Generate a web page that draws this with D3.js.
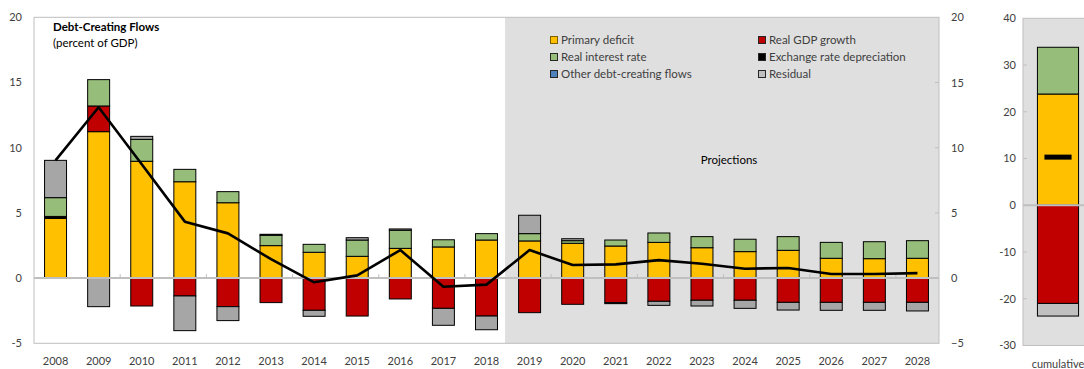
<!DOCTYPE html>
<html>
<head>
<meta charset="utf-8">
<script src="https://cdn.jsdelivr.net/npm/d3@7/dist/d3.min.js"></script>
<style>
  html, body { margin: 0; padding: 0; background: #ffffff; }
  svg { display: block; font-family: Lato, "Liberation Sans", sans-serif; }
</style>
</head>
<body>
<svg id="chart" width="1084" height="369"></svg>
<script>
// Debt-creating flows, percent of GDP
const years = ["2008","2009","2010","2011","2012","2013","2014","2015","2016","2017","2018",
               "2019","2020","2021","2022","2023","2024","2025","2026","2027","2028"];
const firstProjection = "2019";

const primaryDeficit = [4.58, 11.23, 8.96, 7.39, 5.78, 2.49, 1.98, 1.67, 2.28, 2.39, 2.92,
                        2.85, 2.67, 2.46, 2.74, 2.33, 2.03, 2.13, 1.52, 1.49, 1.52];
const realGdpGrowth  = [0.00, 1.97, -2.14, -1.37, -2.19, -1.88, -2.47, -2.91, -1.60, -2.32, -2.91,
                        -2.65, -2.01, -1.88, -1.78, -1.70, -1.70, -1.86, -1.86, -1.86, -1.86];
const exchangeRate   = [0.15, 0, 0, 0, 0, 0, 0, 0, 0, 0, 0,
                        0, 0, 0, 0, 0, 0, 0, 0, 0, 0];
const realInterest   = [1.44, 2.02, 1.68, 0.95, 0.85, 0.79, 0.61, 1.25, 1.39, 0.55, 0.49,
                        0.56, 0.20, 0.46, 0.72, 0.85, 0.95, 1.05, 1.22, 1.30, 1.35];
const otherFlows     = [0, 0, 0, 0, 0, 0, 0, 0, 0, 0, 0,
                        0, 0, 0, 0, 0, 0, 0, 0, 0, 0];
const residual       = [2.86, -2.19, 0.23, -2.66, -1.07, 0.08, -0.46, 0.18, 0.10, -1.30, -1.05,
                        1.41, 0.15, -0.08, -0.31, -0.44, -0.62, -0.59, -0.61, -0.61, -0.66];
const debtChange     = [9.03, 13.10, 8.73, 4.33, 3.43, 1.45, -0.32, 0.21, 2.15, -0.66, -0.50,
                        2.15, 1.00, 1.05, 1.38, 1.10, 0.72, 0.78, 0.31, 0.31, 0.38];

// Cumulative over the projection period
const cumulativeLabel = "cumulative";
const cumPrimary  = 23.8;
const cumGrowth   = -21.0;
const cumExchange = 0;
const cumInterest = 10.0;
const cumOther    = 0;
const cumResidual = -2.7;
const cumDebtChange = 10.3;

const leftTicks  = [-5, 0, 5, 10, 15, 20];
const rightTicks = [-30, -20, -10, 0, 10, 20, 30, 40];

const seriesNames = ["Primary deficit", "Real GDP growth", "Exchange rate depreciation",
                     "Real interest rate", "Other debt-creating flows", "Residual"];
const seriesKeys  = ["primary", "growth", "exchange", "interest", "other", "residual"];
const colors = {
  primary: "#FFC000", growth: "#C00000", exchange: "#000000",
  interest: "#96BD7A", other: "#4F81BD", residual: "#A6A6A6"
};
const legendOrder = [
  ["primary", "growth"],
  ["interest", "exchange"],
  ["other", "residual"]
];

const svg = d3.select("#chart");
const textColor = "#404040";
const frameColor = "#BFBFBF";
const shadeColor = "#DFDFDF";

// ---------- main panel ----------
const main = { left: 34, right: 939, top: 17.3, bottom: 343.3 };
const x = d3.scaleBand().domain(years).range([main.left, main.right]).paddingInner(0.49).paddingOuter(0.245);
const y = d3.scaleLinear().domain([-5, 20]).range([main.bottom, main.top]);

const rows = years.map((yr, i) => ({
  year: yr,
  primary: primaryDeficit[i], growth: realGdpGrowth[i], exchange: exchangeRate[i],
  interest: realInterest[i], other: otherFlows[i], residual: residual[i],
  change: debtChange[i]
}));

// projection shading
const shadeX = x(firstProjection) - x.step() * x.paddingInner() / 2 - 3;
svg.append("rect")
  .attr("x", shadeX).attr("y", main.top)
  .attr("width", main.right - shadeX).attr("height", main.bottom - main.top)
  .attr("fill", shadeColor);

// frame
svg.append("rect")
  .attr("x", main.left).attr("y", main.top)
  .attr("width", main.right - main.left).attr("height", main.bottom - main.top)
  .attr("fill", "none").attr("stroke", frameColor).attr("stroke-width", 1);

// left tick labels
svg.append("g").selectAll("text").data(leftTicks).join("text")
  .attr("x", 22).attr("y", d => y(d)).attr("dy", "0.35em")
  .attr("text-anchor", "end").attr("font-size", 11).attr("fill", textColor)
  .text(d => d);

// right axis with inward ticks
const rightAxis = d3.axisRight(y).tickValues(leftTicks).tickSize(0).tickPadding(12);
const ra = svg.append("g").attr("transform", `translate(${main.right},0)`).call(rightAxis);
ra.select(".domain").remove();
ra.selectAll("text").attr("font-size", 11).attr("fill", textColor).attr("font-family", "Lato, sans-serif");
svg.append("g").selectAll("line").data(leftTicks.filter(d => d > -5 && d < 20)).join("line")
  .attr("x1", main.right - 4).attr("x2", main.right)
  .attr("y1", d => y(d)).attr("y2", d => y(d))
  .attr("stroke", frameColor);

// title
svg.append("text").attr("x", 53).attr("y", 31).attr("font-size", 11.5)
  .attr("font-weight", "bold").attr("fill", "#000").text("Debt-Creating Flows");
svg.append("text").attr("x", 53).attr("y", 47).attr("font-size", 11.5)
  .attr("fill", "#000").text("(percent of GDP)");

// projections note
svg.append("text").attr("x", 729).attr("y", 164).attr("text-anchor", "middle")
  .attr("font-size", 11.5).attr("fill", "#000").text("Projections");

// legend
const legend = svg.append("g");
const legendCols = [550, 758];
const legendRows = [40, 57, 74];
legendOrder.forEach((row, r) => row.forEach((key, c) => {
  const g = legend.append("g").attr("transform", `translate(${legendCols[c]},${legendRows[r]})`);
  g.append("rect").attr("x", 0.5).attr("y", -3.5).attr("width", 7).attr("height", 7)
    .attr("fill", key === "residual" ? "#BFBFBF" : colors[key])
    .attr("stroke", key === "primary" ? "#7F6000" : "#262626").attr("stroke-width", 1);
  g.append("text").attr("x", 11).attr("y", 0).attr("dy", "0.35em")
    .attr("font-size", 11.5).attr("fill", textColor)
    .text(seriesNames[seriesKeys.indexOf(key)]);
}));

// stacked bars
const stack = d3.stack().keys(seriesKeys).offset(d3.stackOffsetDiverging);
const layers = stack(rows);
const barG = svg.append("g");
layers.forEach(layer => {
  barG.append("g").selectAll("rect")
    .data(layer.filter(d => Math.abs(d[1] - d[0]) > 1e-9))
    .join("rect")
    .attr("x", d => x(d.data.year))
    .attr("width", x.bandwidth())
    .attr("y", d => y(Math.max(d[0], d[1])))
    .attr("height", d => Math.abs(y(d[0]) - y(d[1])))
    .attr("fill", colors[layer.key])
    .attr("stroke", "#000").attr("stroke-width", 1);
});

// zero line and category ticks
svg.append("line")
  .attr("x1", main.left).attr("x2", main.right)
  .attr("y1", y(0)).attr("y2", y(0))
  .attr("stroke", frameColor).attr("stroke-width", 2);
const boundaryIdx = d3.range(2, years.length, 2);
svg.append("g").selectAll("line").data(boundaryIdx).join("line")
  .attr("x1", i => x(years[i]) - x.step() * x.paddingInner() / 2)
  .attr("x2", i => x(years[i]) - x.step() * x.paddingInner() / 2)
  .attr("y1", y(0) - 4).attr("y2", y(0))
  .attr("stroke", frameColor);

// change in debt line
const line = d3.line().x(d => x(d.year) + x.bandwidth() / 2).y(d => y(d.change));
svg.append("path").datum(rows).attr("d", line)
  .attr("fill", "none").attr("stroke", "#000").attr("stroke-width", 2.6)
  .attr("stroke-linejoin", "round");

// year labels
svg.append("g").selectAll("text").data(years).join("text")
  .attr("x", d => x(d) + x.bandwidth() / 2).attr("y", 365)
  .attr("text-anchor", "middle").attr("font-size", 11).attr("fill", textColor)
  .text(d => d);

// ---------- cumulative panel ----------
const cum = { left: 1023, right: 1093, top: 18.3, bottom: 345.5 };
const xc = d3.scaleBand().domain([cumulativeLabel]).range([cum.left, cum.right]).padding(0.26);
const yc = d3.scaleLinear().domain([-30, 40]).range([cum.bottom, cum.top]);

svg.append("rect")
  .attr("x", cum.left).attr("y", cum.top)
  .attr("width", cum.right - cum.left).attr("height", cum.bottom - cum.top)
  .attr("fill", shadeColor).attr("stroke", frameColor);

svg.append("g").selectAll("text").data(rightTicks).join("text")
  .attr("x", 1016).attr("y", d => yc(d)).attr("dy", "0.35em")
  .attr("text-anchor", "end").attr("font-size", 11).attr("fill", textColor)
  .text(d => d);
svg.append("g").selectAll("line").data(rightTicks.filter(d => d > -30 && d < 40)).join("line")
  .attr("x1", cum.left).attr("x2", cum.left + 4)
  .attr("y1", d => yc(d)).attr("y2", d => yc(d))
  .attr("stroke", frameColor);

const cumRow = [{
  year: cumulativeLabel, primary: cumPrimary, growth: cumGrowth, exchange: cumExchange,
  interest: cumInterest, other: cumOther, residual: cumResidual
}];
const cumColors = Object.assign({}, colors, { residual: "#C0C0C0" });
stack(cumRow).forEach(layer => {
  svg.append("g").selectAll("rect")
    .data(layer.filter(d => Math.abs(d[1] - d[0]) > 1e-9))
    .join("rect")
    .attr("x", xc(cumulativeLabel)).attr("width", xc.bandwidth())
    .attr("y", d => yc(Math.max(d[0], d[1])))
    .attr("height", d => Math.abs(yc(d[0]) - yc(d[1])))
    .attr("fill", cumColors[layer.key])
    .attr("stroke", "#000").attr("stroke-width", 1);
});

svg.append("line")
  .attr("x1", cum.left).attr("x2", cum.right)
  .attr("y1", yc(0)).attr("y2", yc(0))
  .attr("stroke", frameColor).attr("stroke-width", 2);

// net cumulative change marker
const markW = xc.bandwidth() * 0.66;
svg.append("rect")
  .attr("x", xc(cumulativeLabel) + (xc.bandwidth() - markW) / 2)
  .attr("y", yc(cumDebtChange) - 2.5)
  .attr("width", markW).attr("height", 5).attr("fill", "#000");

svg.append("text")
  .attr("x", xc(cumulativeLabel) + xc.bandwidth() / 2).attr("y", 368)
  .attr("text-anchor", "middle").attr("font-size", 11).attr("fill", textColor)
  .text(cumulativeLabel);
</script>
</body>
</html>
